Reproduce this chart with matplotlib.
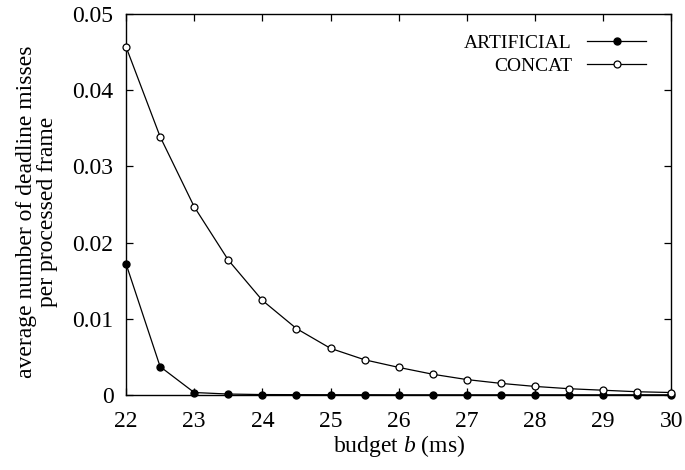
import matplotlib.pyplot as plt
import numpy as np

plt.rcParams['font.family'] = ['Liberation Serif', 'DejaVu Serif']
plt.rcParams['mathtext.fontset'] = 'custom'
plt.rcParams['mathtext.it'] = 'Liberation Serif:italic'
plt.rcParams['mathtext.rm'] = 'Liberation Serif'

budget = [22, 22.5, 23, 23.5, 24, 24.5, 25, 25.5, 26, 26.5, 27, 27.5, 28, 28.5, 29, 29.5, 30]
artificial = [0.0172, 0.0037, 0.0003, 0.0001, 0.00003, 0.00002, 0.00001, 0.00001, 0.0,
              0.0, 0.0, 0.0, 0.0, 0.0, 0.0, 0.0, 0.0]
concat = [0.0457, 0.0339, 0.0247, 0.0177, 0.0124, 0.0087, 0.0061, 0.0046, 0.0036,
          0.0027, 0.0020, 0.0015, 0.0011, 0.0008, 0.0006, 0.0004, 0.0003]

xticks = [22, 23, 24, 25, 26, 27, 28, 29, 30]
yticks = [0, 0.01, 0.02, 0.03, 0.04, 0.05]
ytick_labels = ["0", "0.01", "0.02", "0.03", "0.04", "0.05"]

fig = plt.figure(figsize=(6.85, 4.70), dpi=100)
ax = fig.add_axes([0.184, 0.16, 0.796, 0.81])

ax.plot(budget, artificial, color="black", lw=0.9, marker="o", ms=5,
        mfc="black", mec="black", label="ARTIFICIAL", clip_on=False, zorder=3)
ax.plot(budget, concat, color="black", lw=0.9, marker="o", ms=5,
        mfc="white", mec="black", mew=0.9, label="CONCAT", clip_on=False, zorder=3)

ax.set_xlim(22, 30)
ax.set_ylim(0, 0.05)
ax.set_xticks(xticks)
ax.set_yticks(yticks)
ax.set_yticklabels(ytick_labels)
ax.tick_params(direction="in", top=True, right=True, length=5, width=0.9,
               labelsize=17)
ax.tick_params(axis="y", pad=9)
ax.tick_params(axis="x", pad=12)
for s in ax.spines.values():
    s.set_linewidth(1.0)

ax.set_xlabel("budget $b$ (ms)", fontsize=17, labelpad=0.5)
ax.set_ylabel("average number of deadline misses\nper processed frame", fontsize=17,
              linespacing=1.0)
ax.yaxis.set_label_coords(-0.125, 0.48)

ax.legend(loc="upper right", frameon=False, markerfirst=False, fontsize=14,
          handlelength=3.0, handletextpad=0.8, labelspacing=0.25,
          bbox_to_anchor=(0.978, 0.982), borderaxespad=0.3)

fig.savefig("out.png", dpi=100)
